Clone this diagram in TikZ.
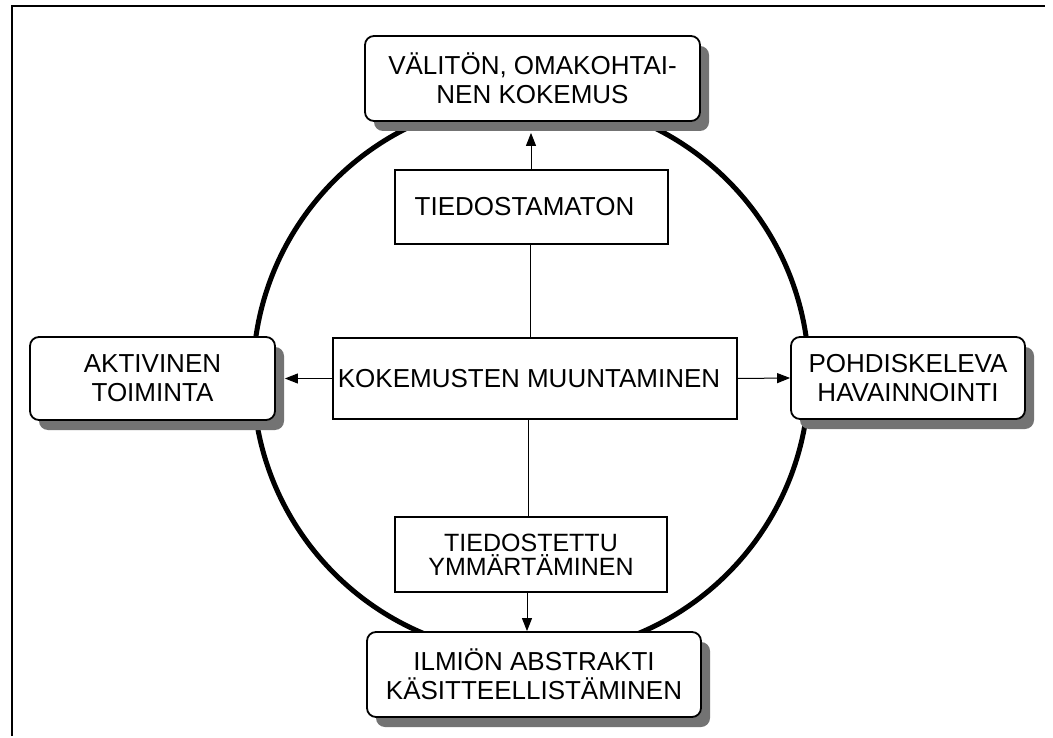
\documentclass[tikz,border=0pt]{standalone}
\usepackage{fontspec}
\setmainfont{Liberation Sans}
\usetikzlibrary{arrows.meta,shadows}
\begin{document}
\begin{tikzpicture}[x=1pt,y=-1pt,
  rbox/.style={draw, line width=1.8pt, rounded corners=9pt, fill=white, align=center, inner sep=0pt,
    font=\fontsize{26}{29}\selectfont,
    drop shadow={shadow xshift=9pt, shadow yshift=-10pt, fill=black!55, opacity=1}},
  sbox/.style={draw, line width=1.6pt, fill=white, align=center, inner sep=0pt,
    font=\fontsize{26}{29}\selectfont},
  arr/.style={line width=1pt, -{Triangle[length=13pt,width=10pt]}},
  conn/.style={line width=1pt}]
\useasboundingbox (0,0) rectangle (1053,738);
\fill[white] (0,0) rectangle (1053,738);
% outer frame
\draw[line width=2pt] (12,736) -- (12,6) -- (1045,6);
% circle
\draw[line width=5pt] (531,377) circle[radius=278];
% rounded boxes
\node[rbox, minimum width=335pt, minimum height=85pt] (top) at (532.5,78.5) {VÄLITÖN, OMAKOHTAI-\\NEN KOKEMUS};
\node[rbox, minimum width=245pt, minimum height=83pt] (left) at (152.5,378.5) {AKTIVINEN\\TOIMINTA};
\node[rbox, minimum width=234pt, minimum height=82pt] (right) at (908,378) {POHDISKELEVA\\HAVAINNOINTI};
\node[rbox, minimum width=334pt, minimum height=85pt] (bottom) at (534,674.5) {ILMIÖN ABSTRAKTI\\KÄSITTEELLISTÄMINEN};
% square boxes
\node[sbox, minimum width=273pt, minimum height=74pt] (tied) at (531.5,207) {TIEDOSTAMATON\hspace*{14pt}};
\node[sbox, minimum width=404pt, minimum height=81pt] (mid) at (535,378.5) {KOKEMUSTEN MUUNTAMINEN\hspace*{12pt}};
\node[sbox, minimum width=272pt, minimum height=75pt, font=\fontsize{25}{24}\selectfont] (tiedu) at (531,554.5) {TIEDOSTETTU\\YMMÄRTÄMINEN};
% connectors
\draw[arr, shorten >=11pt] (tied.north -| 531,0) -- (top.south -| 531,0);
\draw[conn] (tied.south -| 530,0) -- (mid.north -| 530,0);
\draw[conn] (mid.south -| 528,0) -- (tiedu.north -| 528,0);
\draw[arr] (tiedu.south -| 527,0) -- (bottom.north -| 527,0);
\draw[arr, shorten >=9pt] (mid.west) -- (left.east);
\draw[arr] (mid.east) -- (right.west);
\end{tikzpicture}
\end{document}
